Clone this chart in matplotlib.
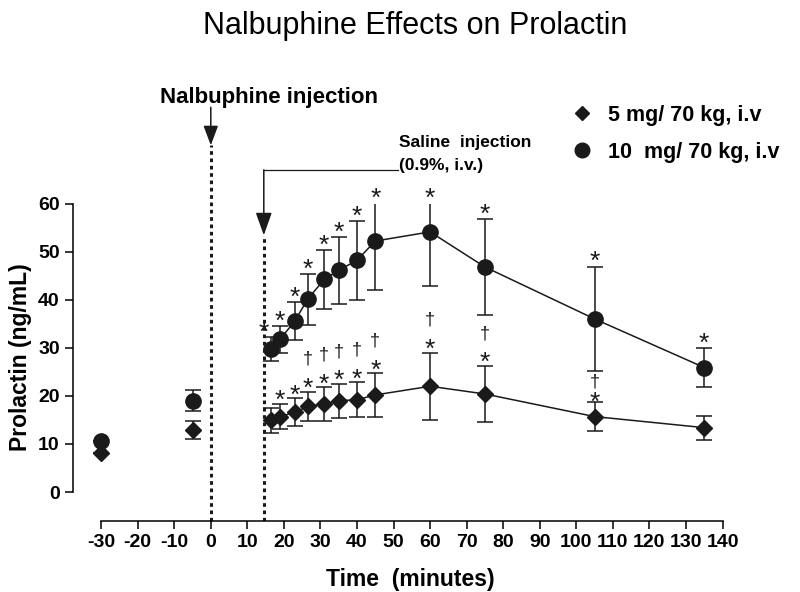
import numpy as np
import matplotlib.pyplot as plt
from matplotlib.lines import Line2D
from matplotlib.patches import Rectangle

plt.rcParams['font.family'] = ['Liberation Sans', 'DejaVu Sans']
plt.rcParams['axes.unicode_minus'] = False

# baseline samples (before nalbuphine)
t_base = [-30, -5]
hi_base = [10.6, 19.0]
hi_base_err = [0, 2.2]
lo_base = [8.2, 12.9]
lo_base_err = [0, 1.9]

# after saline
t_post = [16.5, 19, 23, 26.5, 31, 35, 40, 45, 60, 75, 105, 135]
hi_mean = [29.7, 31.8, 35.6, 40.1, 44.2, 46.1, 48.2, 52.2, 54.1, 46.8, 36.0, 25.9]
hi_err = [2.5, 2.8, 3.9, 5.3, 6.1, 7.0, 8.2, 10.1, 11.3, 9.9, 10.9, 4.1]
lo_mean = [14.9, 15.7, 16.6, 17.8, 18.3, 19.0, 19.2, 20.2, 22.0, 20.4, 15.7, 13.4]
lo_err = [2.6, 2.6, 2.9, 3.1, 3.5, 3.5, 3.6, 4.5, 7.0, 5.8, 3.1, 2.5]

# significance marks (1 = shown)
hi_star = [1, 1, 1, 1, 1, 1, 1, 1, 1, 1, 1, 1]
lo_star = [0, 1, 1, 1, 1, 1, 1, 1, 1, 1, 1, 0]
lo_dag = [0, 0, 0, 1, 1, 1, 1, 1, 1, 1, 1, 0]

nalb_t = 0
saline_t = 14.5

xticks = list(range(-30, 141, 10))
yticks = list(range(0, 61, 10))
ytop = 60

fig = plt.figure(figsize=(8, 5.92), dpi=100)
ax = fig.add_axes([0.09125, 0.12, 0.885, 0.8125])
ax.set_xlim(-37.7, 156)
ax.set_ylim(-6.0, 94)

ink = '#1a1a1a'
ek = dict(ecolor=ink, elinewidth=1.1, capsize=6, capthick=1.1)

# error bars are cut at the top of the y axis, as in the original
clip = Rectangle((-40, -10), 200, 10 + ytop, transform=ax.transData)

ax.errorbar(t_base, hi_base, yerr=hi_base_err, fmt='o', ms=11, color=ink, **ek)
ax.errorbar(t_base, lo_base, yerr=lo_base_err, fmt='D', ms=8, color=ink, **ek)
eb = ax.errorbar(t_post, hi_mean, yerr=hi_err, fmt='-o', ms=11, lw=1.1, color=ink, **ek)
for art in list(eb[1]) + list(eb[2]):
    art.set_clip_path(clip)
ax.errorbar(t_post, lo_mean, yerr=lo_err, fmt='-D', ms=8, lw=1.1, color=ink, **ek)

for i, t in enumerate(t_post):
    if hi_star[i]:
        dx = -5 if i == 0 else 0
        top = min(hi_mean[i] + hi_err[i], ytop)
        ax.annotate('*', (t, top), xytext=(dx, -2), textcoords='offset points',
                    ha='center', va='baseline', fontsize=19, color=ink)
    tight = t_post[i] == 105
    if lo_star[i]:
        ax.annotate('*', (t, lo_mean[i] + lo_err[i]), xytext=(0, -6 if tight else -3),
                    textcoords='offset points', ha='center', va='baseline', fontsize=19, color=ink)
    if lo_dag[i]:
        ax.annotate('\u2020', (t, lo_mean[i] + lo_err[i]), xytext=(0, 11 if tight else 20),
                    textcoords='offset points', ha='center', va='baseline', fontsize=13, color=ink)

# injection markers
ax.plot([nalb_t, nalb_t], [-6, 72.1], color=ink, lw=2.2, ls=(0, (1.2, 1.2)))
ax.plot([saline_t, saline_t], [-6, 53.4], color=ink, lw=2.2, ls=(0, (1.2, 1.2)))
ax.annotate('', xy=(nalb_t, 72.1), xytext=(nalb_t, 80.0),
            arrowprops=dict(arrowstyle='-|>,head_length=1.2,head_width=0.45', color=ink, lw=1.1,
                            shrinkA=0, shrinkB=0))
ax.annotate('', xy=(saline_t, 53.4), xytext=(saline_t, 67.0),
            arrowprops=dict(arrowstyle='-|>,head_length=1.4,head_width=0.5', color=ink, lw=1.1,
                            shrinkA=0, shrinkB=0))
ax.plot([saline_t, 51.2], [67.0, 67.0], color=ink, lw=0.9)
ax.text(15.8, 82.0, 'Nalbuphine injection', ha='center', va='center', fontsize=16, fontweight='bold')
ax.text(51.6, 72.6, 'Saline  injection', ha='left', va='center', fontsize=12.5, fontweight='bold')
ax.text(51.6, 67.8, '(0.9%, i.v.)', ha='left', va='center', fontsize=12.5, fontweight='bold')

handles = [Line2D([], [], ls='none', marker='D', ms=7.5, color=ink),
           Line2D([], [], ls='none', marker='o', ms=10.5, color=ink)]
leg = ax.legend(handles, ['5 mg/ 70 kg, i.v', '10  mg/ 70 kg, i.v'], loc='upper left',
                bbox_to_anchor=(0.69, 0.856), bbox_transform=fig.transFigure, frameon=False,
                prop=dict(size=15.5, weight='bold'), handletextpad=0.7, labelspacing=0.75,
                handlelength=1.0)

ax.spines['top'].set_visible(False)
ax.spines['right'].set_visible(False)
ax.spines['left'].set_bounds(0, 60)
ax.spines['bottom'].set_bounds(-30, 140)
for s in ['left', 'bottom']:
    ax.spines[s].set_linewidth(1.1)
ax.set_xticks(xticks)
ax.set_yticks(yticks)
ax.tick_params(length=6, width=1.1, labelsize=14)
for lab in ax.get_xticklabels() + ax.get_yticklabels():
    lab.set_fontweight('bold')

ax.set_xlabel('Time  (minutes)', fontsize=16.5, fontweight='bold')
ax.xaxis.set_label_coords(0.477, -0.097)
ax.set_ylabel('Prolactin (ng/mL)', fontsize=16.5, fontweight='bold')
ax.yaxis.set_label_coords(-0.058, 0.341)
fig.suptitle('Nalbuphine Effects on Prolactin', x=0.519, y=0.982, fontsize=22, va='top')

plt.savefig('out.png', dpi=100)
